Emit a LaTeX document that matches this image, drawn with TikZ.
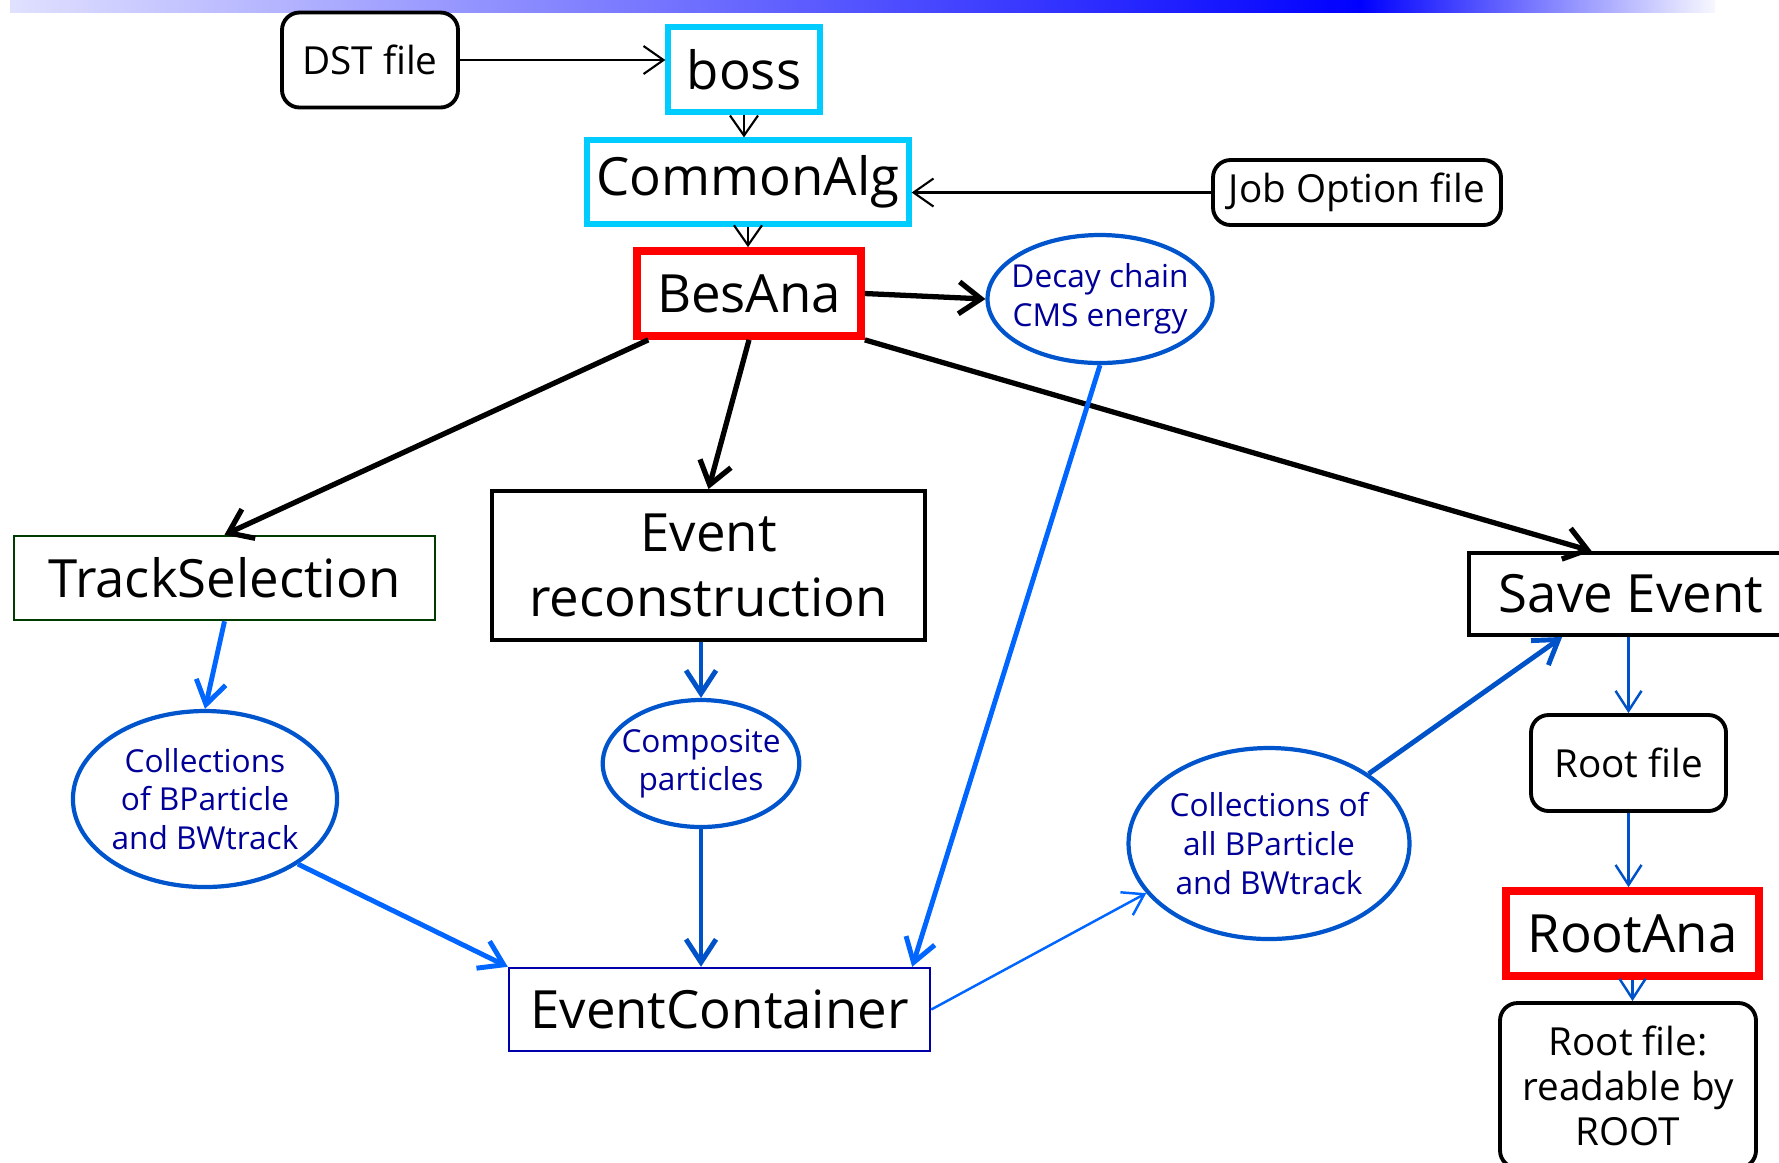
\documentclass[tikz,border=0pt]{standalone}
\usepackage{fontspec}
\setmainfont{Open Sans}
\usepackage{tikz}
\usetikzlibrary{arrows.meta,calc,shapes.geometric}
\definecolor{cyanframe}{RGB}{0,204,255}
\definecolor{redframe}{RGB}{255,0,0}
\definecolor{bubbleblue}{RGB}{0,85,204}
\definecolor{navytext}{RGB}{0,0,153}
\definecolor{arrowblue}{RGB}{0,102,255}
\definecolor{darkarrow}{RGB}{0,82,200}
\definecolor{containerblue}{RGB}{0,0,170}
\definecolor{selgreen}{RGB}{0,60,0}
\definecolor{barblue}{RGB}{0,0,255}

\begin{document}
\begin{tikzpicture}[
      font=\fontsize{11}{12.8}\selectfont,
      bigbox/.style={draw, align=center, inner sep=0pt,
        font=\fontsize{15}{18.5}\selectfont},
      cyanbox/.style={bigbox, draw=cyanframe, line width=1.5pt},
      redbox/.style={bigbox, draw=redframe, line width=2.2pt},
      filebox/.style={draw, rounded corners=5pt, align=center, inner sep=0pt,
        line width=1.1pt},
      bubble/.style={draw=bubbleblue, ellipse, align=center, inner sep=0pt,
        line width=1.2pt, text=navytext, font=\fontsize{9}{11}\selectfont},
      arr/.style={-{Straight Barb[length=2mm,width=2.8mm]}, line width=0.6pt},
      thickarr/.style={-{Straight Barb[length=2.2mm,width=3.2mm]}, line width=1.5pt},
      bluearr/.style={-{Straight Barb[length=2.3mm,width=3mm]}, line width=1.4pt,
        arrowblue},
      darkarr/.style={bluearr, darkarrow},
      bluethin/.style={-{Straight Barb[length=2mm,width=2.6mm]}, line width=0.7pt,
        darkarrow}
    ]
    \useasboundingbox (0,0) rectangle (17.79,-11.62);
    \shade[left color=barblue!12, right color=barblue] (0.1,0) rectangle (13.6,-0.12);
    \shade[left color=barblue, right color=barblue!3] (13.6,0) rectangle (17.15,-0.12);

    \node[filebox, minimum width=1.76cm, minimum height=0.95cm] (dst) at (3.70,-0.60) {DST file};
    \node[cyanbox, minimum width=1.52cm, minimum height=0.85cm] (boss) at (7.44,-0.695) {boss};
    \node[cyanbox, minimum width=3.22cm, minimum height=0.84cm] (common) at (7.48,-1.82) {CommonAlg};
    \node[filebox, minimum width=2.88cm, minimum height=0.65cm] (jobopt) at (13.57,-1.925) {Job Option file};
    \node[redbox, minimum width=2.24cm, minimum height=0.85cm] (besana) at (7.49,-2.935) {BesAna};
    \node[bubble, inner xsep=-1mm, minimum width=2.25cm, minimum height=1.28cm] (decay) at (11.00,-2.99) {Decay chain\\CMS energy};

    \node[bigbox, draw=selgreen, line width=0.7pt, minimum width=4.21cm, minimum height=0.84cm] (tracksel) at (2.245,-5.78) {TrackSelection};
    \node[bigbox, line width=1.1pt, minimum width=4.33cm, minimum height=1.49cm] (evreco) at (7.085,-5.655) {Event\\reconstruction};
    \node[bigbox, line width=1.1pt, minimum width=3.24cm, minimum height=0.82cm] (saveev) at (16.31,-5.94) {Save Event};

    \node[bubble, minimum width=2.58cm, minimum height=1.76cm] (coll) at (2.05,-7.99) {Collections\\of BParticle\\and BWtrack};
    \node[bubble, inner xsep=-1mm, minimum width=1.92cm, minimum height=1.27cm] (composite) at (7.01,-7.635) {Composite\\particles};
    \node[bubble, minimum width=2.74cm, minimum height=1.91cm] (collall) at (12.69,-8.435) {Collections of\\all BParticle\\and BWtrack};
    \node[bigbox, draw=containerblue, line width=0.7pt, minimum width=4.21cm, minimum height=0.83cm] (evcont) at (7.195,-10.095) {EventContainer};

    \node[filebox, minimum width=1.95cm, minimum height=0.96cm] (rootfile) at (16.285,-7.63) {Root file};
    \node[redbox, minimum width=2.53cm, minimum height=0.85cm] (rootana) at (16.325,-9.335) {RootAna};
    \node[filebox, minimum width=2.56cm, minimum height=1.65cm] (readable) at (16.28,-10.855) {Root file:\\readable by\\ROOT};

    \draw[arr] (dst) -- (dst -| boss.west);
    \draw[arr] (boss.south) -- (boss.south |- common.north);
    \draw[arr] (common.south) -- (common.south |- besana.north);
    \draw[arr] (jobopt.west) -- (jobopt.west -| common.east);

    \draw[thickarr] (besana.east) -- (decay.west);
    \draw[thickarr] (besana) -- (tracksel.north);
    \draw[thickarr] (besana.south) -- (evreco.north);
    \draw[thickarr] (besana.south east) -- ($(saveev.north west)!0.38!(saveev.north east)$);

    \draw[bluearr] (decay.south) -- ($(evcont.north west)!0.955!(evcont.north east)$);
    \draw[bluearr] (tracksel.south) -- (coll.north);
    \draw[bluearr] (coll.-35) -- (evcont.north west);
    \draw[darkarr] (composite.north |- evreco.south) -- (composite.north);
    \draw[darkarr] (composite.south) -- (composite.south |- evcont.north);
    \draw[bluethin, arrowblue] (evcont.east) -- (collall.202);
    \draw[darkarr] (collall.35) -- ($(saveev.south west)!0.29!(saveev.south east)$);
    \draw[bluethin] (rootfile.north |- saveev.south) -- (rootfile.north);
    \draw[bluethin] (rootfile.south) -- (rootfile.south |- rootana.north);
    \draw[bluethin] (rootana.south) -- (rootana.south |- readable.north);
  \end{tikzpicture}
\end{document}
